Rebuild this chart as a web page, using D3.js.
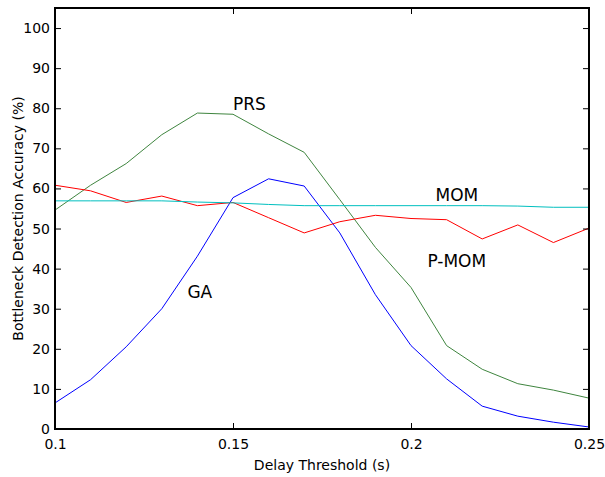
<!DOCTYPE html>
<html>
<head>
<meta charset="utf-8">
<script src="https://cdn.jsdelivr.net/npm/d3@7"></script>
<style>
body { margin: 0; background: #fff; }
text { font-family: "DejaVu Sans", sans-serif; fill: #000; }
</style>
</head>
<body>
<svg id="chart"></svg>
<script>
var width = 605;
var height = 477;

// delay thresholds (s)
var thresholds = [0.10, 0.11, 0.12, 0.13, 0.14, 0.15, 0.16, 0.17, 0.18, 0.19, 0.20, 0.21, 0.22, 0.23, 0.24, 0.25];
var gaValues   = [6.5, 12.3, 20.5, 30.0, 43.1, 57.7, 62.4, 60.6, 48.9, 33.5, 20.8, 12.5, 5.7, 3.2, 1.7, 0.5];
var prsValues  = [54.6, 60.8, 66.2, 73.4, 78.8, 78.5, 73.6, 69.0, 57.2, 45.3, 35.3, 20.8, 14.9, 11.3, 9.7, 7.7];
var pmomValues = [60.8, 59.4, 56.5, 58.1, 55.7, 56.5, 52.7, 48.9, 51.7, 53.3, 52.5, 52.2, 47.4, 50.9, 46.5, 50.1];
var momValues  = [56.9, 56.9, 56.9, 56.9, 56.6, 56.4, 56.0, 55.7, 55.7, 55.7, 55.7, 55.7, 55.7, 55.6, 55.3, 55.3];

var xTicks = [0.1, 0.15, 0.2, 0.25];
var yTicks = [0, 10, 20, 30, 40, 50, 60, 70, 80, 90, 100];

// label anchor positions in data units
var series = [
	{name: "GA", values: gaValues, color: "#0000ff", lx: 0.1372, ly: 32.6},
	{name: "PRS", values: prsValues, color: "#3f853f", lx: 0.1500, ly: 79.6},
	{name: "P-MOM", values: pmomValues, color: "#ff0000", lx: 0.2046, ly: 40.3},
	{name: "MOM", values: momValues, color: "#00bfbf", lx: 0.2069, ly: 56.9}
];

var mLeft = 55, mRight = 589, mTop = 8, mBottom = 429;

var x = d3.scaleLinear().domain([0.1, 0.25]).range([mLeft, mRight]);
var y = d3.scaleLinear().domain([0, 105]).range([mBottom, mTop]);

var svg = d3.select("#chart")
	.attr("width", width)
	.attr("height", height);

// lines
var line = d3.line()
	.x(function (d, i) { return x(thresholds[i]); })
	.y(function (d) { return y(d); });

series.forEach(function (s) {
	svg.append("path")
		.attr("d", line(s.values))
		.attr("fill", "none")
		.attr("stroke", s.color)
		.attr("stroke-width", 1);
});

// labels on the curves
series.forEach(function (s) {
	svg.append("text")
		.attr("x", x(s.lx))
		.attr("y", y(s.ly))
		.style("font-size", "17px")
		.text(s.name);
});

// axes, ticks pointing inward
var xBottom = d3.axisBottom(x).tickValues(xTicks).tickSizeInner(-6).tickSizeOuter(0).tickPadding(10)
	.tickFormat(function (d) { return d3.format("")(d); });
var xTop = d3.axisTop(x).tickValues(xTicks).tickSizeInner(-6).tickSizeOuter(0).tickFormat("");
var yLeft = d3.axisLeft(y).tickValues(yTicks).tickSizeInner(-6).tickSizeOuter(0).tickPadding(5);
var yRight = d3.axisRight(y).tickValues(yTicks).tickSizeInner(-6).tickSizeOuter(0).tickFormat("");

function styleAxis(g) {
	g.select(".domain").remove();
	g.selectAll(".tick line").attr("stroke", "#000").attr("stroke-width", 1);
	g.selectAll(".tick text").style("font-size", "14px").style("font-family", "DejaVu Sans, sans-serif");
}

svg.append("g").attr("transform", "translate(0," + mBottom + ")").call(xBottom).call(styleAxis);
svg.append("g").attr("transform", "translate(0," + mTop + ")").call(xTop).call(styleAxis);
svg.append("g").attr("transform", "translate(" + mLeft + ",0)").call(yLeft).call(styleAxis);
svg.append("g").attr("transform", "translate(" + mRight + ",0)").call(yRight).call(styleAxis);

// frame
svg.append("rect")
	.attr("x", mLeft)
	.attr("y", mTop)
	.attr("width", mRight - mLeft)
	.attr("height", mBottom - mTop)
	.attr("fill", "none")
	.attr("stroke", "#000")
	.attr("stroke-width", 2);

// axis titles
svg.append("text")
	.attr("x", (mLeft + mRight) / 2)
	.attr("y", 470)
	.attr("text-anchor", "middle")
	.style("font-size", "14px")
	.text("Delay Threshold (s)");

svg.append("text")
	.attr("transform", "translate(23," + ((mTop + mBottom) / 2) + ") rotate(-90)")
	.attr("text-anchor", "middle")
	.style("font-size", "14px")
	.text("Bottleneck Detection Accuracy (%)");
</script>
</body>
</html>
